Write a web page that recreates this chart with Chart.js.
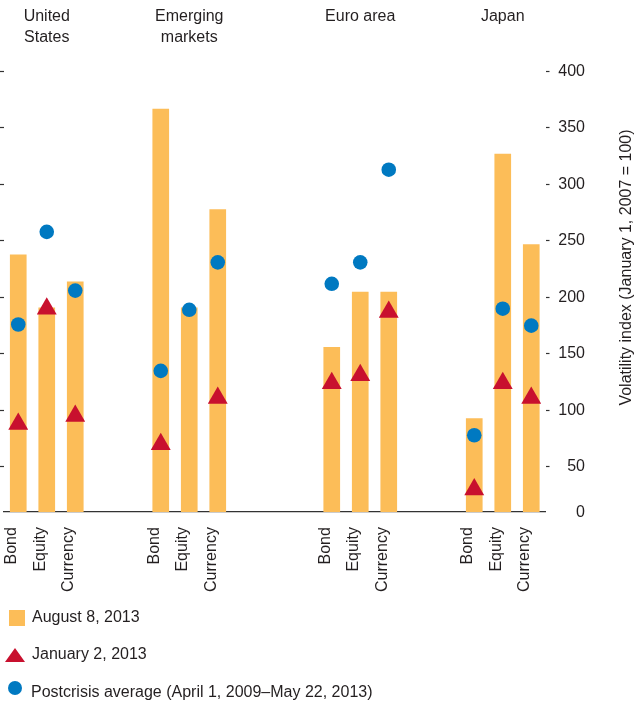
<!DOCTYPE html>
<html>
<head>
<meta charset="utf-8">
<script src="https://cdn.jsdelivr.net/npm/chart.js@4.4.0/dist/chart.umd.min.js"></script>
<style>
  body { margin: 0; background: #fff; }
  #wrap { position: relative; width: 638px; height: 702px; }
  .lg { position: absolute; font: 16px "Liberation Sans", Arial, sans-serif; color: #231f20; line-height: 22px; white-space: nowrap; }
  .sw { position: absolute; }
</style>
</head>
<body>
<div id="wrap">
  <canvas id="myChart" width="638" height="702"></canvas>
  <div class="sw" style="left:9px;top:610px;width:16px;height:16px;background:#FCBD58;"></div>
  <div class="lg" style="left:32px;top:606px;">August 8, 2013</div>
  <div class="sw" style="left:5px;top:648px;width:0;height:0;border-left:10.5px solid transparent;border-right:10.5px solid transparent;border-bottom:14px solid #C8102E;"></div>
  <div class="lg" style="left:32px;top:643px;">January 2, 2013</div>
  <div class="sw" style="left:8px;top:681px;width:14px;height:14px;border-radius:50%;background:#0079C1;"></div>
  <div class="lg" style="left:31px;top:681px;">Postcrisis average (April 1, 2009–May 22, 2013)</div>
</div>
<script>
// groups and asset classes
const groups = [["United", "States"], ["Emerging", "markets"], "Euro area", "Japan"];
const assets = ["Bond", "Equity", "Currency"];

// volatility index (January 1, 2007 = 100), order: US, EM, Euro area, Japan
const aug2013 = [238, 191, 214, 367, 191, 278, 156, 205, 205, 93, 327, 247];
const jan2013 = [88, 190, 95, 70, null, 111, 124, 131, 187, 30, 124, 111];
const postcrisis = [176, 258, 206, 135, 189, 231, 212, 231, 313, 78, 190, 175];

// empty category slots between groups
const gaps = [2, 3, 2];

const yMin = 10;
const yMax = 400;

// build the slot layout for the category axis
const labels = [];
const headers = [];
const slotIndex = [];
groups.forEach((g, gi) => {
  assets.forEach((a, ai) => {
    slotIndex.push(labels.length);
    labels.push(a);
    headers.push(ai === 1 ? g : "");
  });
  for (let k = 0; k < (gaps[gi] || 0); k++) {
    labels.push("");
    headers.push("");
  }
});

function toSlots(values) {
  const out = labels.map(() => null);
  values.forEach((v, i) => { out[slotIndex[i]] = v; });
  return out;
}

const textColor = "#231f20";
const fontFamily = "'Liberation Sans', Arial, sans-serif";
Chart.defaults.font.family = fontFamily;
Chart.defaults.font.size = 16;
Chart.defaults.color = textColor;

// right axis title reads bottom-to-top
const sideTitle = {
  id: "sideTitle",
  afterDraw(chart) {
    const ctx = chart.ctx;
    const area = chart.chartArea;
    ctx.save();
    ctx.translate(627, area.top + (area.bottom - area.top) * 0.445);
    ctx.rotate(-Math.PI / 2);
    ctx.font = "16px " + fontFamily;
    ctx.fillStyle = textColor;
    ctx.textAlign = "center";
    ctx.textBaseline = "middle";
    ctx.fillText("Volatility index (January 1, 2007 = 100)", 0, 0);
    ctx.restore();
  },
};

const hideMinTick = (c) => (c.tick && c.tick.value === yMin ? "rgba(0,0,0,0)" : "#333");

const ctx = document.getElementById("myChart").getContext("2d");
new Chart(ctx, {
  data: {
    labels: labels,
    datasets: [
      {
        type: "line",
        label: "Postcrisis average (April 1, 2009–May 22, 2013)",
        data: toSlots(postcrisis),
        showLine: false,
        pointStyle: "circle",
        pointRadius: 7.3,
        pointHoverRadius: 7.3,
        pointBackgroundColor: "#0079C1",
        pointBorderWidth: 0,
        yAxisID: "y",
        order: 0,
      },
      {
        type: "line",
        label: "January 2, 2013",
        data: toSlots(jan2013),
        showLine: false,
        pointStyle: "triangle",
        pointRadius: 11.5,
        pointHoverRadius: 11.5,
        pointBackgroundColor: "#C8102E",
        pointBorderWidth: 0,
        yAxisID: "y",
        order: 1,
      },
      {
        type: "bar",
        label: "August 8, 2013",
        data: toSlots(aug2013),
        backgroundColor: "#FCBD58",
        barPercentage: 0.585,
        categoryPercentage: 1,
        yAxisID: "y",
        order: 2,
      },
    ],
  },
  options: {
    responsive: false,
    devicePixelRatio: 1,
    animation: false,
    layout: { autoPadding: false, padding: { top: 6, right: 53, bottom: 110, left: 0 } },
    plugins: {
      legend: { display: false },
      tooltip: { enabled: false },
    },
    scales: {
      x: {
        type: "category",
        position: "bottom",
        offset: true,
        grid: { drawOnChartArea: false, drawTicks: true, tickLength: 15, color: "rgba(0,0,0,0)" },
        border: { display: true, color: "#333", width: 1.2 },
        ticks: { autoSkip: false, minRotation: 90, maxRotation: 90, padding: 0, labelOffset: -6.5 },
      },
      xTop: {
        type: "category",
        position: "top",
        offset: true,
        labels: headers,
        grid: { drawOnChartArea: false, drawTicks: true, tickLength: 22.8, color: "rgba(0,0,0,0)" },
        border: { display: false },
        ticks: {
          autoSkip: false,
          maxRotation: 0,
          crossAlign: "far",
          padding: 0,
          font: { size: 16, lineHeight: 1.33 },
        },
      },
      y: {
        type: "linear",
        position: "right",
        min: yMin,
        max: yMax,
        grid: { drawOnChartArea: false, tickLength: 4, color: hideMinTick, tickWidth: 1.2 },
        border: { display: false },
        ticks: {
          stepSize: 50,
          padding: 4.4,
          crossAlign: "far",
          callback: (v) => (v === yMin ? "0" : v),
        },
      },
      yL: {
        type: "linear",
        position: "left",
        min: yMin,
        max: yMax,
        grid: { drawOnChartArea: false, tickLength: 4, color: hideMinTick, tickWidth: 1.2 },
        border: { display: false },
        ticks: { display: false, stepSize: 50 },
      },
    },
  },
  plugins: [sideTitle],
});
</script>
</body>
</html>
